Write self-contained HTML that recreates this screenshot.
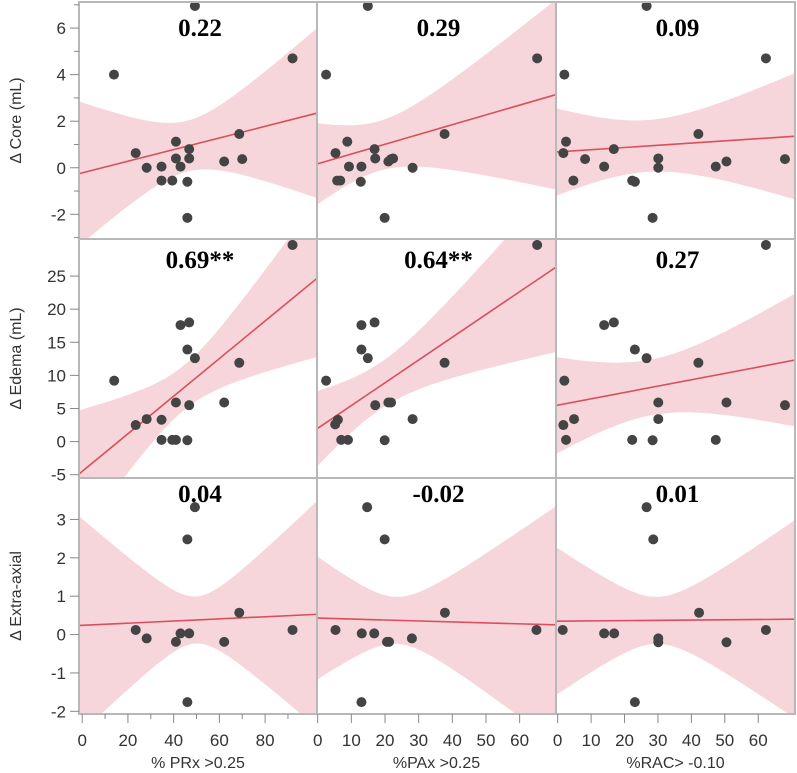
<!DOCTYPE html>
<html><head><meta charset="utf-8"><style>
html,body{margin:0;padding:0;background:#fff;}
svg{display:block;font-family:"Liberation Sans",sans-serif;}
</style></head><body>
<svg id="chart" width="797" height="773" viewBox="0 0 797 773" xmlns="http://www.w3.org/2000/svg"></svg>
<script>
// ---- data ----
const rowNames = ["Δ Core (mL)", "Δ Edema (mL)", "Δ Extra-axial"];
const colNames = ["% PRx >0.25", "%PAx >0.25", "%RAC> -0.10"];
const corrLabels = [["0.22","0.29","0.09"],["0.69**","0.64**","0.27"],["0.04","-0.02","0.01"]];

const coreX_PRx = [13.9,92,23.4,28.2,34.7,34.7,39.4,41,41,43,46.8,46.8,46,46,62.1,68.7,70,49.3];
const coreY_PRx = [4.0,4.7,0.63,0.0,0.05,-0.55,-0.55,1.12,0.4,0.05,0.8,0.4,-0.6,-2.15,0.27,1.45,0.37,6.95];
const coreX_PAx = [2.5,65.2,8.8,5.3,9.3,13,5.8,6.7,12.8,16.9,17.1,21,21.8,22.4,28.2,37.7,19.9,14.9];
const coreY_PAx = [4.0,4.7,1.12,0.63,0.05,0.05,-0.55,-0.55,-0.6,0.8,0.4,0.27,0.37,0.4,0.0,1.45,-2.15,6.95];
const coreX_RAC = [2.0,62.3,2.5,1.7,8.2,4.7,13.9,16.8,22.3,23.1,30.1,30.1,28.4,26.6,42.1,47.3,50.5,68];
const coreY_RAC = [4.0,4.7,1.12,0.63,0.37,-0.55,0.05,0.8,-0.55,-0.6,0.4,0.0,-2.15,6.95,1.45,0.05,0.27,0.37];

const edemaX_PRx = [14,23.4,28.2,34.7,34.7,39.4,41,46,41,46.8,43,46.8,46,49.3,62.1,68.7,92];
const edemaY_PRx = [9.2,2.5,3.4,3.3,0.26,0.26,0.26,0.2,5.9,5.5,17.6,18,13.9,12.6,5.9,11.9,29.7];
const edemaX_PAx = [2.5,5.2,6,7,9,13,16.9,13,14.9,17.1,21,21.8,19.9,28.2,37.7,65.2];
const edemaY_PAx = [9.2,2.6,3.3,0.26,0.26,17.6,18,13.9,12.6,5.5,5.9,5.9,0.2,3.4,11.9,29.7];
const edemaX_RAC = [2.0,1.7,4.9,2.5,13.9,16.8,23.1,26.6,30.1,30.1,22.3,28.4,42.1,47.3,50.5,62.3,68];
const edemaY_RAC = [9.2,2.5,3.4,0.26,17.6,18,13.9,12.6,5.9,3.4,0.26,0.2,11.9,0.26,5.9,29.7,5.5];

const extraX_PRx = [23.4,28.2,41,43,46.8,46,49.3,46,62.1,68.7,92];
const extraY_PRx = [0.12,-0.1,-0.19,0.03,0.03,2.48,3.32,-1.76,-0.19,0.57,0.12];
const extraX_PAx = [5.3,13.1,16.8,21.2,19.9,14.7,13,28,37.8,65,20.6];
const extraY_PAx = [0.12,0.03,0.03,-0.19,2.48,3.32,-1.76,-0.1,0.57,0.12,-0.19];
const extraX_RAC = [1.5,13.9,16.9,26.6,28.6,23.1,30.1,30.1,42.3,50.5,62.3];
const extraY_RAC = [0.12,0.03,0.03,3.32,2.48,-1.76,-0.1,-0.2,0.57,-0.2,0.12];

// fitted lines: [intercept, slope]
const fitCore = [[-0.22,0.025],[0.17,0.042],[0.68,0.0095]];
const fitEdema = [[-4.5,0.284],[2.0,0.344],[5.5,0.096]];
const fitExtra = [[0.24,0.0028],[0.43,-0.0025],[0.35,0.0007]];

const yTicksCore = [-2,0,2,4,6];
const yMinorCore = [-3,-1,1,3,5,7];
const yTicksEdema = [-5,0,5,10,15,20,25];
const yTicksExtra = [-2,-1,0,1,2,3];
const xTicksPRx = [0,20,40,60,80];
const xMinorPRx = [10,30,50,70,90];
const xTicksAx = [0,10,20,30,40,50,60];

// ---- layout ----
const colPx = [[79,317],[317,556],[556,795]];
const rowPx = [[2,239],[239,478],[478,714]];
const titleOff = [34,29,24];
const nEffFactor = [1,1,2.6];
const xDom = [[-1.4,102.7],[-0.2,70.8],[-0.5,71]];
const yDom = [[-3.06,7.12],[-5.5,30.6],[-2.07,4.08]];
const ptsX = [[coreX_PRx,coreX_PAx,coreX_RAC],[edemaX_PRx,edemaX_PAx,edemaX_RAC],[extraX_PRx,extraX_PAx,extraX_RAC]];
const ptsY = [[coreY_PRx,coreY_PAx,coreY_RAC],[edemaY_PRx,edemaY_PAx,edemaY_RAC],[extraY_PRx,extraY_PAx,extraY_RAC]];
const fits = [fitCore,fitEdema,fitExtra];
const yTicks = [yTicksCore,yTicksEdema,yTicksExtra];
const yMinor = [yMinorCore,[],[]];
const xTicks = [xTicksPRx,xTicksAx,xTicksAx];
const xMinor = [xMinorPRx,[],[]];

const NS = "http://www.w3.org/2000/svg";
const svg = document.getElementById("chart");
function mk(tag, attrs, parent){const e=document.createElementNS(NS,tag);for(const k in attrs)e.setAttribute(k,attrs[k]);(parent||svg).appendChild(e);return e;}
function xScale(c,v){const [a,b]=colPx[c],[d0,d1]=xDom[c];return a+(v-d0)/(d1-d0)*(b-a);}
function yScale(r,v){const [a,b]=rowPx[r],[d0,d1]=yDom[r];return b-(v-d0)/(d1-d0)*(b-a);}
function tq(df){const z=1.959964;return z+(z*z*z+z)/(4*df)+(5*Math.pow(z,5)+16*z*z*z+3*z)/(96*df*df);}

const defs = mk("defs",{});
for(let r=0;r<3;r++){for(let c=0;c<3;c++){
  const cp=mk("clipPath",{id:"cp"+r+c},defs);
  mk("rect",{x:colPx[c][0]+1,y:rowPx[r][0]+1,width:colPx[c][1]-colPx[c][0]-2,height:rowPx[r][1]-rowPx[r][0]-2},cp);
}}

for(let r=0;r<3;r++){for(let c=0;c<3;c++){
  const g=mk("g",{"clip-path":"url(#cp"+r+c+")"});
  
  
  const xs=ptsX[r][c], ys=ptsY[r][c], n=xs.length;
  const [b0,b1]=fits[r][c];
  const xbar=xs.reduce((a,v)=>a+v,0)/n;
  let sxx=0,sse=0;
  for(let i=0;i<n;i++){sxx+=(xs[i]-xbar)**2;sse+=(ys[i]-b0-b1*xs[i])**2;}
  const s=Math.sqrt(sse/(n-2)), t=tq(n-2), ne=n*nEffFactor[r];
  const up=[],lo=[];
  const N=60;
  for(let k=0;k<=N;k++){
    const xv=xDom[c][0]+(xDom[c][1]-xDom[c][0])*k/N;
    const yh=b0+b1*xv, h=t*s*Math.sqrt(1/ne+(xv-xbar)**2/sxx);
    up.push(xScale(c,xv).toFixed(1)+","+yScale(r,yh+h).toFixed(1));
    lo.unshift(xScale(c,xv).toFixed(1)+","+yScale(r,yh-h).toFixed(1));
  }
  const band=mk("polygon",{points:up.concat(lo).join(" "),fill:"#f6d6db"},g);
  
  
  const ln=mk("line",{x1:xScale(c,xDom[c][0]),y1:yScale(r,b0+b1*xDom[c][0]),x2:xScale(c,xDom[c][1]),y2:yScale(r,b0+b1*xDom[c][1]),stroke:"#d9505c","stroke-width":1.6},g);
  
  
  for(let i=0;i<n;i++){
    const p=mk("circle",{cx:xScale(c,xs[i]),cy:yScale(r,ys[i]),r:5,fill:"#444"},g);
    
    
  }
  const tt=mk("text",{x:(colPx[c][0]+colPx[c][1])/2+2,y:rowPx[r][0]+titleOff[r],"text-anchor":"middle","font-family":"Liberation Serif, serif","font-weight":"bold","font-size":25,fill:"#000"});
  tt.textContent=corrLabels[r][c];
  
  
}}

// frames
for(let r=0;r<3;r++)for(let c=0;c<3;c++){
  const f=mk("rect",{x:colPx[c][0],y:rowPx[r][0],width:colPx[c][1]-colPx[c][0],height:rowPx[r][1]-rowPx[r][0],fill:"none",stroke:"#b8b8b8","stroke-width":2});
  
  
}

// y axes
for(let r=0;r<3;r++){
  const ga=mk("g",{});
  
  
  yTicks[r].forEach(v=>{
    const y=yScale(r,v);
    mk("line",{x1:70,x2:79,y1:y,y2:y,stroke:"#888","stroke-width":1},ga);
    const tx=mk("text",{x:66,y:y+6,"text-anchor":"end","font-size":17,fill:"#333"},ga);
    tx.textContent=v;
  });
  yMinor[r].forEach(v=>{const y=yScale(r,v);if(y>rowPx[r][0]&&y<rowPx[r][1])mk("line",{x1:74,x2:79,y1:y,y2:y,stroke:"#888","stroke-width":1},ga);});
  const cy=(rowPx[r][0]+rowPx[r][1])/2;
  const tl=mk("text",{x:0,y:0,transform:"translate(21,"+cy+") rotate(-90)","text-anchor":"middle","font-size":16,fill:"#333"});
  tl.textContent=rowNames[r];
  
  
}
// x axes
for(let c=0;c<3;c++){
  const ga=mk("g",{});
  
  
  xTicks[c].forEach(v=>{
    const x=xScale(c,v);
    mk("line",{x1:x,x2:x,y1:714,y2:723,stroke:"#888","stroke-width":1},ga);
    const tx=mk("text",{x:x,y:746,"text-anchor":"middle","font-size":17,fill:"#333"},ga);
    tx.textContent=v;
  });
  xMinor[c].forEach(v=>{const x=xScale(c,v);mk("line",{x1:x,x2:x,y1:714,y2:719,stroke:"#888","stroke-width":1},ga);});
  const tl=mk("text",{x:(colPx[c][0]+colPx[c][1])/2,y:768,"text-anchor":"middle","font-size":16,fill:"#333"});
  tl.textContent=colNames[c];
  
  
}
</script>
</body></html>
